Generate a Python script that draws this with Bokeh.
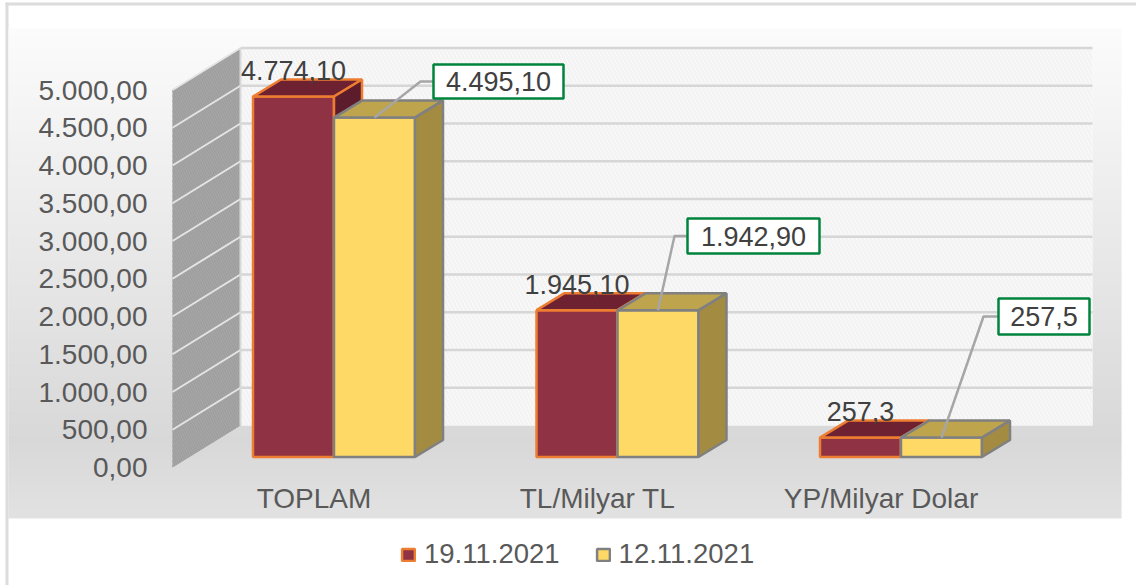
from bokeh.plotting import figure
from bokeh.models import Range1d, LinearAxis, FixedTicker, Legend, LegendItem
from bokeh.core.properties import value
from bokeh.embed import file_html
from bokeh.resources import INLINE

categories = ["TOPLAM", "TL/Milyar TL", "YP/Milyar Dolar"]
series_a_name = "19.11.2021"
series_b_name = "12.11.2021"
series_a = [4774.10, 1945.10, 257.3]
series_b = [4495.10, 1942.90, 257.5]
labels_a = ["4.774,10", "1.945,10", "257,3"]
labels_b = ["4.495,10", "1.942,90", "257,5"]
tick_values = [0, 500, 1000, 1500, 2000, 2500, 3000, 3500, 4000, 4500, 5000]
tick_labels = ["0,00", "500,00", "1.000,00", "1.500,00", "2.000,00", "2.500,00",
               "3.000,00", "3.500,00", "4.000,00", "4.500,00", "5.000,00"]

# layout (page pixels)
W, H = 1136, 585
K = 0.0755
BASE = 456.5
FRONT = 467
BACK = 425
def vy(py):
    return (BASE - py) / K

GROUP = [333.5, 617, 900.5]
BW = 81
DX, DY = 28, 17
FONT = "Liberation Sans"
FS = "27px"
AXIS_FS = "28px"

p = figure(width=W, height=H, toolbar_location=None, output_backend="svg",
           x_range=Range1d(0, W), y_range=Range1d(vy(H), vy(0)),
           x_axis_type=None, y_axis_type=None, min_border=0, outline_line_color=None,
           background_fill_color="white", border_fill_color="white")
p.grid.visible = False
p.extra_y_ranges["front"] = Range1d((FRONT - H) / K, FRONT / K)

# outer frame lines
p.quad(left=[5, 5], right=[8, W], top=[vy(2), vy(2)], bottom=[vy(H), vy(5)],
       fill_color="#dcdcdc", line_color=None)

# panel background gradient
stops = [(28, (251, 251, 251)), (440, (216, 216, 216)), (518, (226, 226, 226))]
py = 28
while py < 518:
    for (a, ca), (b, cb) in zip(stops, stops[1:]):
        if a <= py <= b:
            t = (py - a) / (b - a)
            c = tuple(int(round(ca[i] + (cb[i] - ca[i]) * t)) for i in range(3))
    p.quad(left=8, right=1121, top=vy(py), bottom=vy(min(py + 5, 518)),
           fill_color="#%02x%02x%02x" % c, line_color=None)
    py += 4

# back wall
back_off = (BASE - BACK) / K
p.quad(left=240, right=1092, bottom=back_off, top=5000 + back_off, fill_color="white", line_color=None,
       hatch_pattern="left_diagonal_line", hatch_color="#f3f3f3", hatch_scale=8, hatch_weight=3)
# side wall
front_off = (BASE - FRONT) / K
p.patch([172, 240, 240, 172],
        [5000 + front_off, 5000 + back_off, back_off, front_off],
        fill_color="#a8a8a8", line_color=None,
        hatch_pattern="left_diagonal_line", hatch_color="#9e9e9e", hatch_scale=5, hatch_weight=1.5)
# grid lines on walls
grid_ticks = tick_values[1:]
p.segment(x0=[240] * len(grid_ticks), x1=[1092] * len(grid_ticks),
          y0=[v + back_off for v in grid_ticks], y1=[v + back_off for v in grid_ticks],
          line_color="#d6d6d6", line_width=2.5)
p.segment(x0=[172] * len(grid_ticks), x1=[240] * len(grid_ticks),
          y0=[v + front_off for v in grid_ticks], y1=[v + back_off for v in grid_ticks],
          line_color="#e4e4e4", line_width=2)
p.segment(x0=[240], x1=[240], y0=[back_off], y1=[5000 + back_off], line_color="#d9d9d9", line_width=2)

d = DY / K

def bars(lefts, values, front, top, side, edge):
    rights = [x + BW for x in lefts]
    r = p.quad(left=lefts, right=rights, bottom=[0] * 3, top=values,
               fill_color=front, line_color=edge, line_width=2.5)
    p.patches([[x, x + DX, x + BW + DX, x + BW] for x in lefts],
              [[v, v + d, v + d, v] for v in values],
              fill_color=top, line_color=edge, line_width=2.5)
    p.patches([[x + BW, x + BW + DX, x + BW + DX, x + BW] for x in lefts],
              [[0, d, v + d, v] for v in values],
              fill_color=side, line_color=edge, line_width=2.5)
    return r

r_a = bars([g - BW for g in GROUP], series_a, "#8e3244", "#6e2131", "#5c1c2b", "#ed7d31")
r_b = bars(GROUP, series_b, "#ffd966", "#bda44d", "#a38c42", "#808080")

# data labels of the first series
p.text(x=[g - BW / 2 for g in GROUP], y=series_a, text=labels_a, y_offset=-26,
       text_align="center", text_baseline="middle",
       text_font=value(FONT), text_font_size=FS, text_color="#404040")

# callouts of the second series
box_l = [433, 687, 998]
box_r = [563, 819, 1089]
box_t = [64, 218, 298]
box_b = [98, 253, 334]
elbow = [420, 674, 983]
for i, g in enumerate(GROUP):
    my = vy((box_t[i] + box_b[i]) / 2)
    p.line([g + BW / 2, elbow[i], box_l[i]], [series_b[i], my, my], line_color="#a6a6a6", line_width=2.5)
p.quad(left=box_l, right=box_r, top=[vy(y) for y in box_t], bottom=[vy(y) for y in box_b],
       fill_color="white", line_color="#00843d", line_width=2.5)
p.text(x=[(a + b) / 2 for a, b in zip(box_l, box_r)], y=[vy((a + b) / 2) for a, b in zip(box_t, box_b)],
       text=labels_b, text_align="center", text_baseline="middle",
       text_font=value(FONT), text_font_size=FS, text_color="#404040")

# axes
yaxis = LinearAxis(y_range_name="front", fixed_location=147,
                   ticker=FixedTicker(ticks=tick_values),
                   major_label_overrides=dict(zip(tick_values, tick_labels)),
                   axis_line_color=None, major_tick_line_color=None, minor_tick_line_color=None,
                   major_tick_in=0, major_tick_out=0, major_label_standoff=0,
                   major_label_text_font=FONT, major_label_text_font_size=AXIS_FS,
                   major_label_text_color="#595959")
p.add_layout(yaxis, "left")
x_ticks = [g - 20 for g in GROUP]
xaxis = LinearAxis(fixed_location=vy(482), ticker=FixedTicker(ticks=x_ticks),
                   major_label_overrides=dict(zip(x_ticks, categories)),
                   axis_line_color=None, major_tick_line_color=None, minor_tick_line_color=None,
                   major_tick_in=0, major_tick_out=0, major_label_standoff=0,
                   major_label_text_font=FONT, major_label_text_font_size=AXIS_FS,
                   major_label_text_color="#595959")
p.add_layout(xaxis, "below")

legend = Legend(items=[LegendItem(label=series_a_name, renderers=[r_a]),
                       LegendItem(label=series_b_name, renderers=[r_b])],
                orientation="horizontal", location=(400, 15), padding=0, margin=0, spacing=35,
                glyph_width=16, glyph_height=15, label_standoff=8,
                background_fill_alpha=0, border_line_color=None,
                label_text_font=FONT, label_text_font_size="27.5px", label_text_color="#595959")
p.add_layout(legend, "center")

open("out.html", "w").write(file_html(p, INLINE))
